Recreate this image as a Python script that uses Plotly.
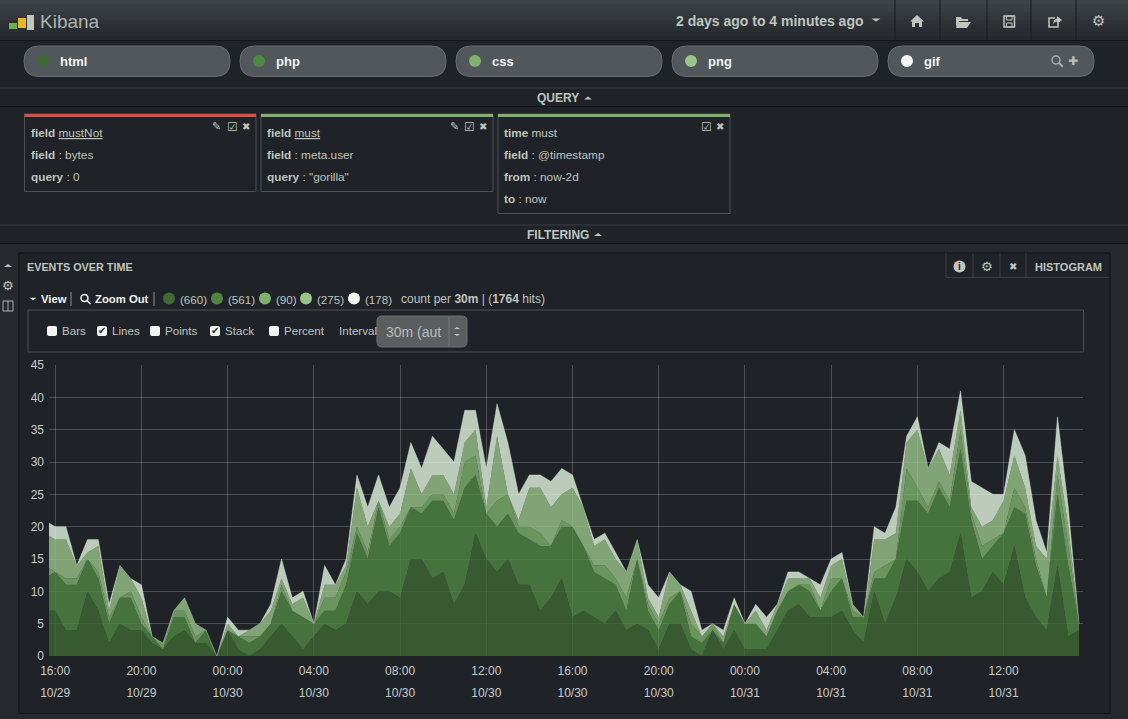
import pandas as pd
import plotly.graph_objects as go

W, H = 1128, 719

# counts per 30m (first point falls left of the visible axis)
html = [7, 7, 4, 4, 10, 7, 2, 5, 4, 4, 2, 1, 3, 4, 2, 2, 0, 4, 1, 0, 1, 3, 5, 3, 1, 3, 5, 4, 5, 10, 8, 10, 10, 9, 15, 15, 12, 13, 8, 11, 19, 15, 13, 15, 11, 11, 7, 9, 12, 6, 7, 6, 5, 7, 4, 5, 4, 1, 5, 5, 1, 0, 4, 1, 4, 1, 1, 1, 4, 7, 8, 6, 6, 6, 7, 4, 2, 10, 5, 9, 15, 13, 10, 12, 13, 19, 9, 10, 13, 11, 17, 9, 6, 4, 14, 3, 4]
php = [5, 6, 7, 7, 5, 5, 3, 4, 5, 1, 1, 0, 3, 2, 0, 2, 0, 0, 2, 2, 2, 2, 5, 4, 5, 2, 2, 3, 6, 9, 7, 13, 7, 10, 8, 7, 12, 11, 13, 15, 9, 7, 7, 7, 8, 7, 10, 8, 8, 14, 10, 7, 7, 4, 3, 10, 3, 3, 3, 5, 2, 2, 0, 1, 4, 4, 4, 2, 3, 3, 3, 4, 1, 4, 5, 2, 4, 2, 7, 6, 9, 11, 12, 14, 10, 13, 12, 5, 4, 8, 6, 13, 8, 5, 11, 11, 1]
css = [2, 0, 1, 1, 0, 1, 1, 0, 1, 1, 0, 1, 1, 1, 1, 0, 0, 0, 0, 1, 0, 0, 1, 0, 0, 0, 2, 2, 2, 1, 1, 1, 1, 1, 0, 1, 1, 1, 1, 4, 3, 0, 4, 3, 1, 2, 2, 0, 1, 0, 0, 1, 2, 1, 2, 0, 1, 1, 1, 0, 2, 1, 1, 0, 0, 0, 0, 0, 0, 0, 0, 1, 0, 2, 0, 1, 0, 1, 2, 0, 5, 2, 1, 1, 1, 3, 1, 2, 1, 0, 3, 1, 1, 0, 3, 3, 0]
png = [5, 5, 6, 2, 1, 4, 1, 5, 2, 3, 0, 0, 0, 2, 2, 0, 0, 1, 0, 1, 2, 2, 1, 1, 3, 0, 2, 2, 1, 6, 4, 0, 2, 2, 6, 2, 3, 3, 3, 3, 4, 1, 10, 0, 1, 6, 7, 6, 4, 6, 6, 3, 4, 3, 4, 3, 1, 1, 4, 1, 2, 0, 0, 1, 0, 0, 2, 1, 1, 2, 1, 1, 2, 2, 3, 1, 0, 5, 4, 4, 4, 9, 6, 5, 4, 3, 1, 3, 3, 5, 5, 3, 2, 6, 3, 3, 0]
gif = [2, 2, 2, 0, 2, 1, 1, 0, 0, 2, 0, 0, 0, 0, 0, 0, 0, 1, 1, 0, 0, 1, 3, 1, 1, 0, 3, 0, 1, 2, 3, 4, 3, 4, 4, 4, 6, 4, 5, 5, 3, 6, 5, 8, 4, 2, 2, 4, 4, 2, 0, 1, 1, 1, 0, 0, 2, 3, 0, 0, 3, 1, 0, 1, 1, 0, 1, 2, 0, 1, 1, 0, 2, 1, 1, 0, 0, 2, 1, 4, 1, 2, 0, 1, 4, 3, 4, 6, 4, 1, 4, 5, 4, 1, 6, 3, 0]

times = pd.date_range("2013-10-29 15:30", periods=97, freq="30min")

series_names = ["html", "php", "css", "png", "gif"]
series_values = [html, php, css, png, gif]
series_colors = ["#3F6833", "#508642", "#7EB26D", "#9AC48A", "#E3F5E0"]
dot_colors = ["#3F6833", "#508642", "#7EB26D", "#9AC48A", "#F4F6F2"]
legend_counts = ["(660)", "(561)", "(90)", "(275)", "(178)"]

BG = "#1f2328"
STRIP = "#25292d"
TEXT = "#bfc5bf"
FONT = "Liberation Sans"


def px(x):
    return x / W


def py(y):
    return 1 - y / H


shapes = []
annotations = []


def rect(x0, y0, x1, y1, fill=None, line=None, width=1):
    shapes.append(dict(type="rect", xref="paper", yref="paper", x0=px(x0), x1=px(x1), y0=py(y0), y1=py(y1),
                       fillcolor=fill, line=dict(color=line, width=width if line else 0), layer="below"))


def hline(y, x0, x1, color):
    shapes.append(dict(type="line", xref="paper", yref="paper", x0=px(x0), x1=px(x1), y0=py(y), y1=py(y),
                       line=dict(color=color, width=1), layer="below"))


def vline(x, y0, y1, color, width=1):
    shapes.append(dict(type="line", xref="paper", yref="paper", x0=px(x), x1=px(x), y0=py(y0), y1=py(y1),
                       line=dict(color=color, width=width), layer="below"))


def dot(x, y, r, color, line=None):
    shapes.append(dict(type="circle", xref="paper", yref="paper", x0=px(x - r), x1=px(x + r), y0=py(y - r), y1=py(y + r),
                       fillcolor=color, line=dict(color=line, width=1.5 if line else 0), layer="below"))


def path(points, fill=None, line=None, width=1):
    p = "M " + " L ".join(f"{px(x)} {py(y)}" for x, y in points)
    if fill:
        p += " Z"
    shapes.append(dict(type="path", xref="paper", yref="paper", path=p, fillcolor=fill,
                       line=dict(color=line, width=width if line else 0), layer="below"))


def rounded(x0, y0, x1, y1, r, fill, line=None):
    p = (f"M {px(x0 + r)} {py(y0)} L {px(x1 - r)} {py(y0)} Q {px(x1)} {py(y0)} {px(x1)} {py(y0 + r)} "
         f"L {px(x1)} {py(y1 - r)} Q {px(x1)} {py(y1)} {px(x1 - r)} {py(y1)} L {px(x0 + r)} {py(y1)} "
         f"Q {px(x0)} {py(y1)} {px(x0)} {py(y1 - r)} L {px(x0)} {py(y0 + r)} Q {px(x0)} {py(y0)} {px(x0 + r)} {py(y0)} Z")
    shapes.append(dict(type="path", xref="paper", yref="paper", path=p, fillcolor=fill,
                       line=dict(color=line, width=1 if line else 0), layer="below"))


def caret(x, y, up=False, size=4, color=TEXT):
    d = -size * 0.7 if up else size * 0.7
    p = f"M {px(x - size)} {py(y - d / 2)} L {px(x + size)} {py(y - d / 2)} L {px(x)} {py(y + d / 2)} Z"
    shapes.append(dict(type="path", xref="paper", yref="paper", path=p, fillcolor=color, line=dict(width=0), layer="below"))


def magnifier(x, y, r, color, width=1.5):
    dot(x, y, r, None, line=color)
    path([(x + r * 0.7, y + r * 0.7), (x + r * 1.7, y + r * 1.7)], line=color, width=width + 0.5)


def text(x, y, s, size=12, color=TEXT, anchor="left", family=FONT):
    # annotation boxes sit about 1px right of the requested left edge
    if anchor == "left":
        x -= 1
    annotations.append(dict(xref="paper", yref="paper", x=px(x), y=py(y), text=s, showarrow=False, xanchor=anchor,
                            yanchor="middle", borderpad=0, font=dict(size=size, color=color, family=family)))


def icon(x, y, s, size=12, color=TEXT):
    text(x, y, s, size=size, color=color, anchor="center", family="DejaVu Sans")


# page chrome: header
bands = ["#3e4347", "#3b4044", "#383d41", "#35393e", "#32363b", "#2f3338", "#2c3035", "#2a2e33", "#282c31", "#262a2f"]
for n, c in enumerate(bands):
    rect(0, n * 4, W, (n + 1) * 4, fill=c)
hline(40.5, 0, W, "#121417")
rect(9, 23, 17, 29, fill="#6fb24a")
rect(18, 18, 26, 28, fill="#e8b52e")
rect(27, 15, 34, 30, fill="#bfc7bb")
text(40, 21, "Kibana", size=19, color="#aeb4b3")
text(676, 20.5, "<b>2 days ago to 4 minutes ago</b>", size=14)
caret(876, 20, size=4.5)
for x in [895, 940, 987, 1031, 1076]:
    vline(x, 0, 40, "#17191c")
# home, folder, save, share, gear
path([(917, 15), (924, 21.5), (922, 21.5), (922, 27), (919, 27), (919, 23), (915, 23), (915, 27), (912, 27), (912, 21.5), (910, 21.5)], fill=TEXT)
path([(956, 17), (961, 17), (962, 19), (968, 19), (968, 21), (959, 21), (956, 27)], fill=TEXT)
path([(958, 22), (971, 22), (967, 28), (956, 28)], fill=TEXT)
rect(1004, 16, 1014.5, 27, line=TEXT, width=1.5)
rect(1006.5, 16, 1012, 20, line=TEXT)
rect(1006.5, 23, 1012, 27, line=TEXT)
path([(1055, 18), (1049, 18), (1049, 27), (1058, 27), (1058, 23)], line=TEXT, width=1.5)
path([(1053, 24), (1054, 20), (1057, 18.5), (1057, 16), (1062, 20), (1057, 24), (1057, 21.5), (1055, 22)], fill=TEXT)
icon(1098, 21, "⚙", 15)

# query pills
pill_x = [24, 240, 456, 672, 888]
for x0, name, col in zip(pill_x, series_names, dot_colors):
    rounded(x0, 46, x0 + 206, 76.5, 15, "#52575b", "#6a6e71")
    dot(x0 + 19, 61, 6, col)
    text(x0 + 36, 61, f"<b>{name}</b>", size=13, color="#f2f4f2")
magnifier(1056, 60, 4, "#aab0ab")
icon(1073, 61, "✚", 12, "#b9bfb9")

# collapsible section bars
hline(88, 0, W, "#3b3f44")
hline(106.5, 0, W, "#101215")
hline(225, 0, W, "#3b3f44")
hline(243.5, 0, W, "#101215")
text(537, 98, "<b>QUERY</b>", size=12)
caret(588, 98, up=True)
text(527, 234.5, "<b>FILTERING</b>", size=12)
caret(598, 234.5, up=True)

# filter cards
cards = [
    (24.5, 256, 191.5, "#e24d42", ["<b>field</b> <u>mustNot</u>", "<b>field</b> : bytes", "<b>query</b> : 0"], True),
    (261, 493, 191.5, "#7eb26d", ["<b>field</b> <u>must</u>", "<b>field</b> : meta.user", '<b>query</b> : "gorilla"'], True),
    (498, 730, 213.5, "#7eb26d", ["<b>time</b> must", "<b>field</b> : @timestamp", "<b>from</b> : now-2d", "<b>to</b> : now"], False),
]
for x0, x1, y1, col, rows, edit in cards:
    rect(x0, 114, x1, y1, line="#4c5055")
    rect(x0, 114, x1, 117, fill=col)
    for n, row in enumerate(rows):
        text(x0 + 6, 133 + 22 * n, row, size=11.8)
    if edit:
        icon(x1 - 39, 127, "✎", 11)
    icon(x1 - 24, 127, "☑", 12)
    icon(x1 - 10, 127, "✖", 10)

# panel frame
rect(0, 244, W, H, fill=STRIP)
rect(19, 253, 1110, 713.5, fill=BG, line="#101215")
caret(8, 265.5, up=True)
icon(8, 285, "⚙", 13)
rect(3, 301, 13, 311, line="#aab0ab")
vline(8, 301, 311, "#aab0ab")

text(27, 267, "<b>EVENTS OVER TIME</b>", size=10.8)
hline(277.5, 946, 1109, "#3a3e43")
for x in [946, 973, 1000, 1026]:
    vline(x, 253, 277, "#3a3e43")
dot(959.5, 266.5, 6, TEXT)
text(959.5, 266.5, "<b>i</b>", size=10, color=BG, anchor="center")
icon(986.5, 266.5, "⚙", 13)
icon(1013, 266.5, "✖", 10)
text(1035, 267, "<b>HISTOGRAM</b>", size=11)

# legend line
caret(33, 299, size=3.5, color="#f2f4f2")
text(41, 299, "<b>View</b>", size=11.3, color="#f2f4f2")
vline(71, 292, 306, "#8a8f8b")
magnifier(84.5, 298, 3.5, "#f2f4f2", width=1)
text(95, 299, "<b>Zoom Out</b>", size=11.3, color="#f2f4f2")
vline(154, 292, 306, "#8a8f8b")
for dx, tx, col, lab in zip([169, 217, 265, 306, 354], [179, 227, 275, 316, 364], dot_colors, legend_counts):
    dot(dx, 298.5, 6, col)
    text(tx + 1, 299, lab, size=11.6)
text(401, 299, "count per <b>30m</b> | (<b>1764</b> hits)", size=12)

# chart options box
rect(28, 310, 1083.5, 352, line="#4c5055")
for bx, tx, label, checked in [(47, 61.5, "Bars", False), (97, 111, "Lines", True), (150, 164, "Points", False),
                               (210, 224, "Stack", True), (269, 283.5, "Percent", False)]:
    rounded(bx, 326, bx + 10, 336, 2, "#f2f4f2")
    if checked:
        icon(bx + 5, 331, "✔", 10, "#2a2e33")
    text(tx + 0.5, 331, label, size=11.6)
text(338.5, 331, "Interval", size=11.6)
rounded(377, 316, 467, 347, 5, "#5b5e5f", "#6a6e71")
vline(449, 317, 346, "#74777a")
text(386, 331.5, "30m (aut", size=14, color="#b9bdb9")
caret(457, 328, up=True, size=3)
caret(457, 335, size=3)

fig = go.Figure()
for name, vals, col in zip(series_names, series_values, series_colors):
    rgb = tuple(int(col[i:i + 2], 16) for i in (1, 3, 5))
    edge = name == "gif"
    fig.add_trace(go.Scatter(
        x=times,
        y=vals,
        name=name,
        stackgroup="one",
        mode="lines" if edge else "none",
        line=dict(width=0.6, color=f"rgba({rgb[0]},{rgb[1]},{rgb[2]},0.6)") if edge else None,
        fillcolor=f"rgba({rgb[0]},{rgb[1]},{rgb[2]},0.8)",
        hoverinfo="x+y+name",
    ))

fig.update_layout(
    width=W,
    height=H,
    margin=dict(l=0, r=0, t=0, b=0, pad=0, autoexpand=False),
    paper_bgcolor=BG,
    plot_bgcolor="rgba(0,0,0,0)",
    showlegend=False,
    font=dict(family=FONT, color="#c8cbc8", size=12),
    shapes=shapes,
    annotations=annotations,
    xaxis=dict(
        domain=[px(49), px(1083)],
        type="date",
        range=["2013-10-29 15:42:45", "2013-10-31 15:41"],
        tick0="2013-10-29 16:00",
        dtick=4 * 3600 * 1000,
        tickformat='<span style="font-size:12px">%H:%M</span><br><span style="font-size:12px">%m/%d</span>',
        tickfont=dict(size=17, color="#c8cbc8"),
        ticks="",
        ticklabelstandoff=1,
        showgrid=True,
        gridcolor="rgba(255,255,255,0.2)",
        gridwidth=1,
        zeroline=False,
        showline=False,
    ),
    yaxis=dict(
        domain=[py(656), py(365)],
        range=[0, 45],
        dtick=5,
        ticks="",
        ticklabelstandoff=4,
        tickfont=dict(size=12, color="#c8cbc8"),
        showgrid=True,
        gridcolor="rgba(255,255,255,0.2)",
        gridwidth=1,
        zeroline=False,
        showline=False,
    ),
)

fig.write_html("out.html", config={"displayModeBar": False},
               post_script="document.body.style.margin='0';document.body.style.background='%s';" % BG)
